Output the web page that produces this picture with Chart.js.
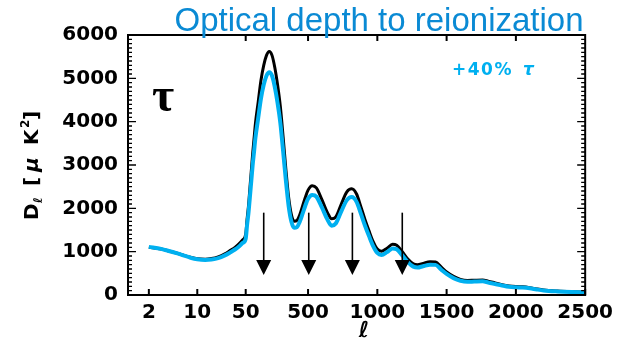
<!DOCTYPE html>
<html><head><meta charset="utf-8">
<script src="https://cdn.jsdelivr.net/npm/chart.js@4/dist/chart.umd.min.js"></script>
<style>html,body{margin:0;padding:0;background:#fff}#wrap{width:619px;height:342px;position:relative}</style>
</head><body><div id="wrap"><canvas id="c" width="619" height="342"></canvas></div>
<script>
// ---- data ----
const ells = [2,3,4,5,6,8,10,13,16,20,25,30,35,40,45,50,
  60,70,80,90,100,110,120,140,160,180,200,220,240,260,280,300,320,340,360,380,400,420,440,460,480,500,530,560,600,640,670,700,740,780,815,850,880,910,940,970,1000,1030,1070,1110,1140,1180,1220,1260,1290,1330,1380,1420,1460,1500,1550,1600,1650,1700,1760,1800,1850,1900,1950,2000,2050,2100,2150,2200,2300,2400,2500];
const dlBaseline = [1100,1060,1010,970,930,870,835,825,840,880,950,1030,1100,1180,1270,1400,
  1750,2050,2450,2850,3250,3600,3950,4450,4950,5300,5530,5620,5530,5250,4850,4350,3650,2900,2250,1850,1700,1720,1850,2050,2250,2420,2520,2470,2200,1900,1760,1800,2100,2380,2450,2330,2050,1750,1480,1230,1060,1010,1080,1170,1150,1000,830,720,700,730,770,760,650,530,430,360,335,340,345,320,280,240,210,195,190,170,140,115,90,75,65];
const dlTauPlus40 = [1110,1065,1010,965,925,860,825,810,820,850,915,985,1050,1120,1200,1300,
  1620,1890,2250,2620,2990,3300,3620,4080,4530,4850,5060,5140,5060,4800,4430,3970,3320,2640,2050,1690,1550,1565,1690,1870,2060,2220,2310,2270,2020,1740,1600,1650,1930,2190,2260,2150,1890,1610,1360,1130,970,925,990,1075,1055,915,760,655,635,665,700,695,590,485,390,330,305,310,315,290,255,220,190,178,172,155,128,105,82,68,60];
const xTickEll = [2,10,50,500,1000,1500,2000,2500];
const xTopTickEll = [50,500,1000,1500,2000];
const yTickValues = [0,1000,2000,3000,4000,5000,6000];
const arrowEll = [180,505,820,1180];
const arrowTopDl = 1900, arrowTipDl = 460;
const titleText = 'Optical depth to reionization';
const seriesLabel = '+40% τ';

// ---- axis transform: log below l=50, linear above ----
const SPLIT = 50, LOGSCALE = 500;
function toU(l){ return l >= SPLIT ? l : SPLIT + LOGSCALE*Math.log10(l/SPLIT); }

const BLACK = '#000000', CYAN = '#00b0f0', TITLEBLUE = '#0a8ad4';
const tickFont = {family:'DejaVu Sans', size:20, weight:'bold'};

const decor = {
  id:'decor',
  afterDatasetsDraw(chart){
    const {ctx, chartArea:a, scales:{x,y}} = chart;
    ctx.save();
    // arrows
    ctx.strokeStyle = BLACK; ctx.fillStyle = BLACK; ctx.lineWidth = 1.6;
    arrowEll.forEach(l=>{
      const px = x.getPixelForValue(toU(l));
      const top = y.getPixelForValue(arrowTopDl), tip = y.getPixelForValue(arrowTipDl);
      ctx.beginPath(); ctx.moveTo(px, top); ctx.lineTo(px, tip-10); ctx.stroke();
      ctx.beginPath(); ctx.moveTo(px-7.5, tip-15); ctx.lineTo(px+7.5, tip-15); ctx.lineTo(px, tip); ctx.closePath(); ctx.fill();
    });
    // frame
    ctx.lineWidth = 2;
    ctx.strokeRect(a.left, a.top, a.right-a.left, a.bottom-a.top);
    // y ticks (inward, both sides)
    ctx.lineWidth = 1.3;
    for(let v=0; v<=6000; v+=100){
      const py = y.getPixelForValue(v);
      const len = (v%1000===0) ? 8 : 4;
      ctx.beginPath();
      ctx.moveTo(a.left, py); ctx.lineTo(a.left+len, py);
      ctx.moveTo(a.right, py); ctx.lineTo(a.right-len, py);
      ctx.stroke();
    }
    ctx.lineWidth = 2;
    xTickEll.forEach(l=>{
      const px = x.getPixelForValue(toU(l));
      ctx.beginPath(); ctx.moveTo(px, a.bottom); ctx.lineTo(px, a.bottom-6); ctx.stroke();
    });
    xTopTickEll.forEach(l=>{
      const px = x.getPixelForValue(toU(l));
      ctx.beginPath(); ctx.moveTo(px, a.top); ctx.lineTo(px, a.top+6); ctx.stroke();
    });
    ctx.restore();
  },
  afterDraw(chart){
    const {ctx} = chart;
    ctx.save();
    // title
    ctx.fillStyle = TITLEBLUE;
    ctx.font = '33px "Liberation Sans"';
    ctx.textAlign = 'center'; ctx.textBaseline = 'alphabetic';
    ctx.fillText(titleText, 379, 31);
    // big tau
    ctx.fillStyle = BLACK;
    ctx.font = 'bold 48px "Liberation Serif"';
    ctx.textAlign = 'left';
    ctx.fillText('τ', 152, 111);
    // series label
    ctx.fillStyle = CYAN;
    ctx.letterSpacing = '1.5px';
    ctx.font = 'bold 17px "DejaVu Sans"';
    ctx.fillText('+40%', 452, 75);
    ctx.font = 'bold italic 17px "DejaVu Sans"';
    ctx.fillText('τ', 523, 75);
    ctx.letterSpacing = '0px';
    // x title
    ctx.fillStyle = BLACK;
    ctx.font = 'bold italic 22px "DejaVu Sans"';
    ctx.textAlign = 'center';
    ctx.fillText('ℓ', 364, 337);
    // y title (rotated)
    ctx.translate(38, 220);
    ctx.rotate(-Math.PI/2);
    ctx.textAlign = 'left';
    ctx.font = 'bold 20px "DejaVu Sans"';
    ctx.fillText('D', 0, 0);
    ctx.font = 'bold italic 12px "DejaVu Sans"';
    ctx.fillText('ℓ', 17, 4);
    ctx.font = 'bold 20px "DejaVu Sans"';
    ctx.fillText('[', 34, 0);
    ctx.font = 'bold italic 20px "DejaVu Sans"';
    ctx.fillText('μ', 48, 0);
    ctx.font = 'bold 20px "DejaVu Sans"';
    ctx.fillText('K', 75, 0);
    ctx.font = 'bold 12px "DejaVu Sans"';
    ctx.fillText('2', 92, -9);
    ctx.font = 'bold 20px "DejaVu Sans"';
    ctx.fillText(']', 100, 0);
    ctx.restore();
  }
};

new Chart(document.getElementById('c'), {
  type:'line',
  data:{
    datasets:[
      {label:seriesLabel, data: ells.map((l,i)=>({x:toU(l), y:dlTauPlus40[i]})),
       borderColor:CYAN, borderWidth:4, pointRadius:0, cubicInterpolationMode:'monotone', order:0, fill:false},
      {label:'baseline', data: ells.map((l,i)=>({x:toU(l), y:dlBaseline[i]})),
       borderColor:BLACK, borderWidth:3, pointRadius:0, cubicInterpolationMode:'monotone', order:1, fill:false}
    ]
  },
  options:{
    responsive:false, animation:false, devicePixelRatio:1,
    layout:{padding:{top:35, right:31, left:0, bottom:0}},
    plugins:{legend:{display:false}, title:{display:false}, tooltip:{enabled:false}},
    scales:{
      x:{type:'linear', min:toU(1), max:2500,
         grid:{display:false, drawTicks:false}, border:{display:false},
         afterBuildTicks(s){ s.ticks = xTickEll.map(l=>({value:toU(l)})); },
         afterFit(s){ s.height = 47; },
         ticks:{autoSkip:false, maxRotation:0, color:BLACK, font:tickFont, padding:6,
           callback(v){ const i = xTickEll.findIndex(l=>Math.abs(toU(l)-v)<1e-6); return i>=0 ? String(xTickEll[i]) : ''; }}},
      y:{type:'linear', min:0, max:6000,
         grid:{display:false, drawTicks:false}, border:{display:false},
         afterBuildTicks(s){ s.ticks = yTickValues.map(v=>({value:v})); },
         afterFit(s){ s.width = 128; },
         ticks:{color:BLACK, font:tickFont, padding:10, callback(v){ return String(v); }}}
    }
  },
  plugins:[decor]
});
</script>
</body></html>
